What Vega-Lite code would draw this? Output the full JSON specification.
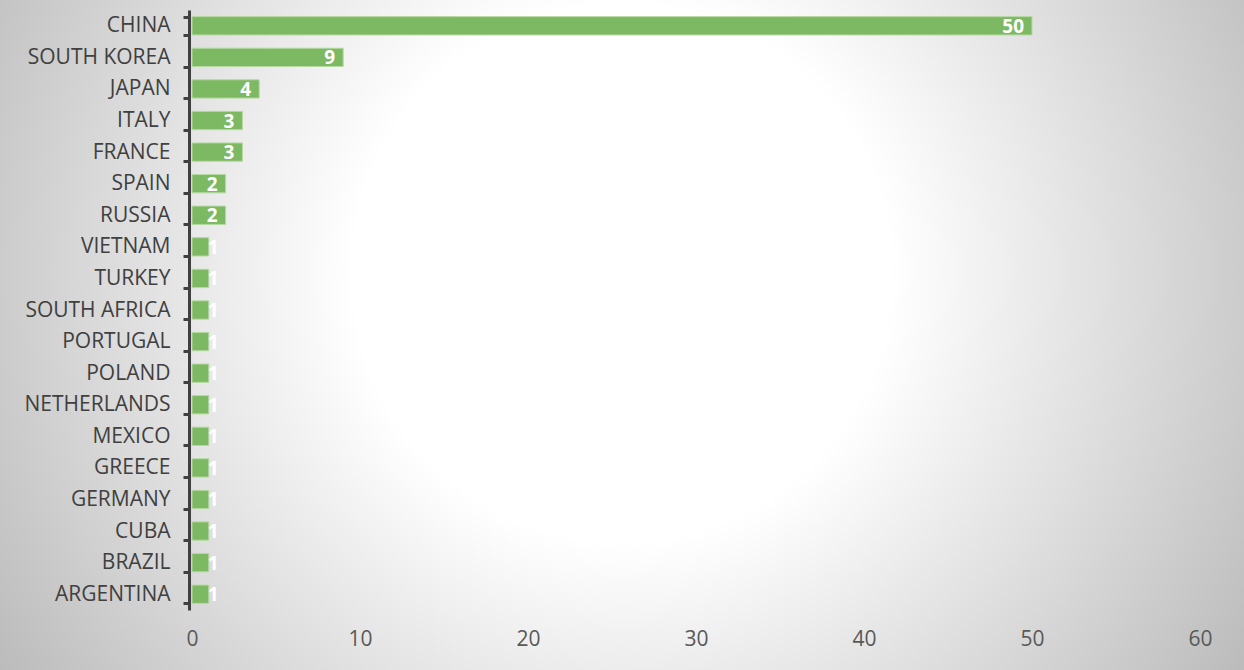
{
  "$schema": "https://vega.github.io/schema/vega-lite/v6.json",
  "width": 1244,
  "height": 670,
  "autosize": {"type": "none"},
  "padding": 0,
  "background": "#d4d4d4",
  "view": {
    "stroke": null,
    "fill": {
      "gradient": "radial",
      "x1": 0.5, "y1": 0.45, "r1": 0,
      "x2": 0.5, "y2": 0.45, "r2": 0.6,
      "stops": [
        {"offset": 0, "color": "#ffffff"},
        {"offset": 0.36, "color": "#ffffff"},
        {"offset": 1, "color": "#bababa"}
      ]
    }
  },
  "config": {
    "font": "Open Sans",
    "axis": {"labelFont": "Open Sans", "labelFontSize": 21, "labelColor": "#404040", "title": null, "grid": false}
  },
  "data": {
    "values": [
      {"country": "CHINA", "value": 50},
      {"country": "SOUTH KOREA", "value": 9},
      {"country": "JAPAN", "value": 4},
      {"country": "ITALY", "value": 3},
      {"country": "FRANCE", "value": 3},
      {"country": "SPAIN", "value": 2},
      {"country": "RUSSIA", "value": 2},
      {"country": "VIETNAM", "value": 1},
      {"country": "TURKEY", "value": 1},
      {"country": "SOUTH AFRICA", "value": 1},
      {"country": "PORTUGAL", "value": 1},
      {"country": "POLAND", "value": 1},
      {"country": "NETHERLANDS", "value": 1},
      {"country": "MEXICO", "value": 1},
      {"country": "GREECE", "value": 1},
      {"country": "GERMANY", "value": 1},
      {"country": "CUBA", "value": 1},
      {"country": "BRAZIL", "value": 1},
      {"country": "ARGENTINA", "value": 1}
    ]
  },
  "encoding": {
    "y": {
      "field": "country", "type": "nominal", "sort": null,
      "scale": {"range": [10, 610], "paddingInner": 0.42, "paddingOuter": 0.21},
      "axis": {
        "offset": -189,
        "domainColor": "#404040", "domainWidth": 3,
        "tickColor": "#404040", "tickWidth": 3, "tickSize": 6,
        "tickBand": "extent",
        "labelPadding": 13,
        "labelColor": "#404040"
      }
    },
    "x": {
      "field": "value", "type": "quantitative",
      "scale": {"domain": [0, 60], "range": [192, 1200], "nice": false},
      "axis": {
        "offset": -42,
        "values": [0, 10, 20, 30, 40, 50, 60],
        "domain": false, "ticks": false,
        "labelFlush": false,
        "labelColor": "#595959",
        "labelPadding": 0
      }
    }
  },
  "layer": [
    {
      "mark": {"type": "bar", "fill": "#7db862", "stroke": "#b5d9a2", "strokeWidth": 1}
    },
    {
      "transform": [{"filter": "datum.value > 1"}],
      "mark": {"type": "text", "align": "right", "baseline": "middle", "dx": -8, "dy": 1, "color": "#ffffff", "fontWeight": "bold", "fontSize": 19},
      "encoding": {"text": {"field": "value", "type": "quantitative"}}
    },
    {
      "transform": [{"filter": "datum.value == 1"}],
      "mark": {"type": "text", "align": "left", "baseline": "middle", "dx": -1, "dy": 1, "color": "#ffffff", "fontWeight": "bold", "fontSize": 19},
      "encoding": {"text": {"field": "value", "type": "quantitative"}}
    }
  ]
}
